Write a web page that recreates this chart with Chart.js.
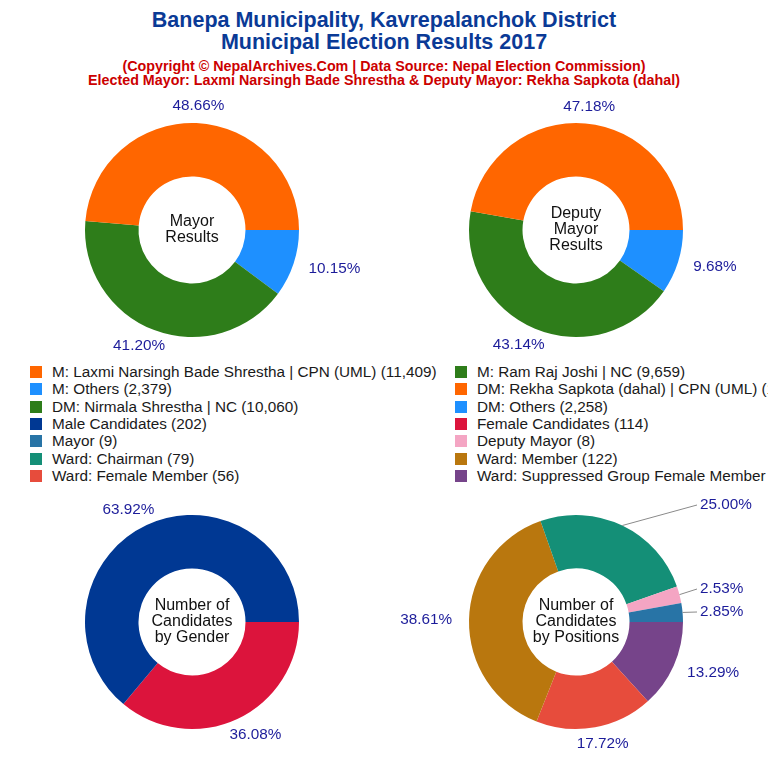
<!DOCTYPE html>
<html>
<head>
<meta charset="utf-8">
<script src="https://cdn.jsdelivr.net/npm/chart.js@4.4.1/dist/chart.umd.min.js"></script>
<style>
  html, body { margin: 0; padding: 0; background: #fff; }
  #page { position: relative; width: 768px; height: 768px; overflow: hidden; font-family: "Liberation Sans", Arial, sans-serif; }
  .title { position: absolute; left: 0; width: 768px; text-align: center; font-weight: bold; color: #0a3a96; font-size: 21.5px; line-height: 22px; }
  .sub { position: absolute; left: 0; width: 768px; text-align: center; font-weight: bold; color: #cc0000; font-size: 14.3px; line-height: 14px; }
  canvas { position: absolute; }
  .lg { position: absolute; white-space: nowrap; font-size: 15.3px; color: #1a1a1a; line-height: 16px; }
  .lg i { position: absolute; left: -22px; top: 2px; width: 12px; height: 12px; }
</style>
</head>
<body>
<div id="page">
  <div class="title" style="top:9px">Banepa Municipality, Kavrepalanchok District</div>
  <div class="title" style="top:31px">Municipal Election Results 2017</div>
  <div class="sub" style="top:59px">(Copyright © NepalArchives.Com | Data Source: Nepal Election Commission)</div>
  <div class="sub" style="top:73px">Elected Mayor: Laxmi Narsingh Bade Shrestha &amp; Deputy Mayor: Rekha Sapkota (dahal)</div>
  <canvas id="c-mayor" width="384" height="272" style="left:0;top:88px"></canvas>
  <canvas id="c-deputy" width="384" height="272" style="left:384px;top:88px"></canvas>
  <canvas id="c-gender" width="384" height="280" style="left:0;top:488px"></canvas>
  <canvas id="c-pos" width="384" height="280" style="left:384px;top:488px"></canvas>
  <div id="legend"></div>
</div>
<script>
// --- data ---
const mayorLabels = ["M: Laxmi Narsingh Bade Shrestha | CPN (UML)", "M: Ram Raj Joshi | NC", "M: Others"];
const mayorVotes = [11409, 9659, 2379];
const mayorColors = ["#FF6600", "#2E7D1A", "#1E90FF"];

const deputyLabels = ["DM: Rekha Sapkota (dahal) | CPN (UML)", "DM: Nirmala Shrestha | NC", "DM: Others"];
const deputyVotes = [11002, 10060, 2258];
const deputyColors = ["#FF6600", "#2E7D1A", "#1E90FF"];

const genderLabels = ["Male Candidates", "Female Candidates"];
const genderCounts = [202, 114];
const genderColors = ["#003893", "#DC143C"];

const positionLabels = ["Mayor", "Deputy Mayor", "Ward: Chairman", "Ward: Member", "Ward: Female Member", "Ward: Suppressed Group Female Member"];
const positionCounts = [9, 8, 79, 122, 56, 42];
const positionColors = ["#2874A6", "#F4A5C3", "#148F77", "#B9770E", "#E74C3C", "#76448A"];

(function () {
  const FONT = "'Liberation Sans', Arial, sans-serif";
  const PCT = "#1c1c9a";

  // percent labels around the ring + text in the hole
  const ringText = {
    id: "ringText",
    afterDatasetsDraw(chart, args, opts) {
      const ctx = chart.ctx;
      const data = chart.data.datasets[0].data;
      const total = data.reduce((a, b) => a + b, 0);
      const meta = chart.getDatasetMeta(0);
      let cx = 0, cy = 0;
      ctx.save();
      ctx.font = "15.3px " + FONT;
      ctx.fillStyle = PCT;
      ctx.textBaseline = "middle";
      meta.data.forEach((arc, i) => {
        const p = arc.getProps(["x", "y", "startAngle", "endAngle", "outerRadius"], true);
        cx = p.x; cy = p.y;
        const mid = (p.startAngle + p.endAngle) / 2;
        const txt = (data[i] / total * 100).toFixed(2) + "%";
        const w = ctx.measureText(txt).width;
        const call = (opts.callouts || {})[chart.data.labels[i]];
        if (call) {
          const lx = p.x + call[0], ly = p.y + call[1];
          ctx.strokeStyle = "#8a8a8a"; ctx.lineWidth = 1;
          ctx.beginPath();
          ctx.moveTo(p.x + Math.cos(mid) * p.outerRadius, p.y + Math.sin(mid) * p.outerRadius);
          ctx.lineTo(lx - 3, ly);
          ctx.stroke();
          ctx.textAlign = "left";
          ctx.fillText(txt, lx, ly);
        } else {
          const r = p.outerRadius + 17;
          const px = p.x + Math.cos(mid) * r, py = p.y + Math.sin(mid) * r;
          ctx.textAlign = "center";
          ctx.fillText(txt, px + (w / 2) * Math.cos(mid), py);
        }
      });
      const lines = opts.center || [];
      ctx.font = "16px " + FONT;
      ctx.fillStyle = "#111";
      ctx.textAlign = "center";
      lines.forEach((t, k) => ctx.fillText(t, cx, cy + (k - (lines.length - 1) / 2) * 16));
      ctx.restore();
    },
  };

  function donut(id, labels, values, colors, center, pad, callouts) {
    // clockwise from 3 o'clock, so reverse to keep the first item ending at 3 o'clock
    const L = [...labels].reverse(), V = [...values].reverse(), C = [...colors].reverse();
    new Chart(document.getElementById(id), {
      type: "doughnut",
      data: { labels: L, datasets: [{ data: V, backgroundColor: C, borderWidth: 0 }] },
      options: {
        responsive: false, animation: false, rotation: 90, cutout: "50%",
        layout: { padding: pad },
        plugins: { legend: { display: false }, tooltip: { enabled: false }, ringText: { center, callouts } },
      },
      plugins: [ringText],
    });
  }

  const topPad = { left: 85, right: 85, top: 35, bottom: 23 };
  const botPad = { left: 85, right: 85, top: 27, bottom: 39 };
  donut("c-mayor", mayorLabels, mayorVotes, mayorColors, ["Mayor", "Results"], topPad);
  donut("c-deputy", deputyLabels, deputyVotes, deputyColors, ["Deputy", "Mayor", "Results"], topPad);
  donut("c-gender", genderLabels, genderCounts, genderColors, ["Number of", "Candidates", "by Gender"], botPad);
  donut("c-pos", positionLabels, positionCounts, positionColors, ["Number of", "Candidates", "by Positions"], botPad,
    { "Ward: Chairman": [124, -117], "Deputy Mayor": [124, -33], "Mayor": [124, -10] });

  /* ---------- legend: two columns, row-major ---------- */
  const items = [];
  [[mayorLabels, mayorVotes, mayorColors], [deputyLabels, deputyVotes, deputyColors],
   [genderLabels, genderCounts, genderColors], [positionLabels, positionCounts, positionColors]]
    .forEach(([ls, vs, cs]) => ls.forEach((l, i) => items.push([l, vs[i], cs[i]])));
  document.getElementById("legend").innerHTML = items.map(([l, v, c], i) => {
    const col = i % 2, row = Math.floor(i / 2);
    const x = col ? 477 : 52, y = 364 + row * 17.33;
    return `<div class="lg" style="left:${x}px;top:${y}px"><i style="background:${c}"></i>${l} (${v.toLocaleString("en-US")})</div>`;
  }).join("");
})();
</script>
</body>
</html>
